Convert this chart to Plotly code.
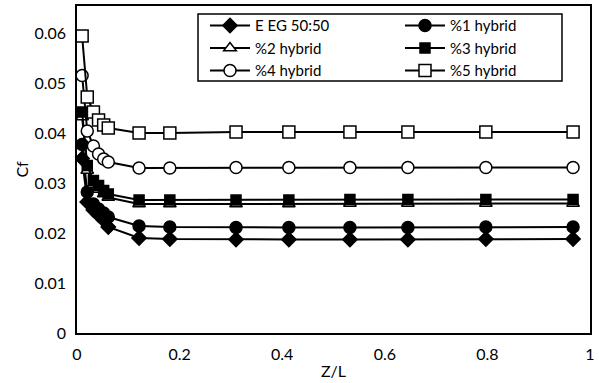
import plotly.graph_objects as go

x = [0.01, 0.02, 0.032, 0.042, 0.052, 0.061, 0.121, 0.181, 0.31, 0.413, 0.532, 0.645, 0.797, 0.967]

names = ["E EG 50:50", "%1 hybrid", "%2 hybrid", "%3 hybrid", "%4 hybrid", "%5 hybrid"]
eeg = [0.0349, 0.0262, 0.0246, 0.0236, 0.0226, 0.0212, 0.0190, 0.0188, 0.0187, 0.0187, 0.0187, 0.0187, 0.0188, 0.0188]
h1 = [0.0377, 0.0282, 0.0258, 0.0248, 0.0240, 0.0232, 0.0214, 0.0212, 0.0211, 0.0211, 0.0211, 0.0211, 0.0212, 0.0212]
h2 = [0.0432, 0.0325, 0.0297, 0.0287, 0.0278, 0.0271, 0.0258, 0.0258, 0.0258, 0.0258, 0.0259, 0.0259, 0.0259, 0.0259]
h3 = [0.0442, 0.0335, 0.0305, 0.0295, 0.0285, 0.0278, 0.0266, 0.0266, 0.0266, 0.0266, 0.0267, 0.0267, 0.0267, 0.0267]
h4 = [0.0515, 0.0404, 0.0374, 0.0358, 0.0348, 0.0342, 0.0330, 0.0330, 0.0331, 0.0331, 0.0331, 0.0331, 0.0331, 0.0331]
h5 = [0.0594, 0.0472, 0.0442, 0.0426, 0.0416, 0.0410, 0.0400, 0.0400, 0.0402, 0.0402, 0.0402, 0.0402, 0.0402, 0.0402]
series = [eeg, h1, h2, h3, h4, h5]

symbols = ["diamond", "circle", "triangle-up", "square", "circle", "square"]
fills = ["black", "black", "white", "black", "white", "white"]
sizes = [11, 12, 11, 10, 12, 12]

fig = go.Figure()
for n, s, sym, fc, sz in zip(names, series, symbols, fills, sizes):
    fig.add_trace(go.Scatter(
        x=x, y=s, name=n, mode="lines+markers",
        line=dict(color="black", width=2),
        marker=dict(symbol=sym, size=sz, color=fc, line=dict(color="black", width=1.5)),
    ))

# legend frame
fig.add_shape(type="rect", xref="paper", yref="paper",
              x0=(198 - 77) / 513, x1=(562 - 77) / 513,
              y0=(333 - 81) / 327, y1=(333 - 14) / 327,
              line=dict(color="black", width=1.5), fillcolor="white", layer="above")

font = "Lato, 'Open Sans', sans-serif"
fig.update_layout(
    width=599, height=383,
    margin=dict(l=77, r=9, t=6, b=50, autoexpand=False),
    plot_bgcolor="white", paper_bgcolor="white",
    font=dict(family=font, size=16, color="black"),
    legend=dict(
        orientation="h", x=(205 - 77) / 513, y=0.99, xanchor="left", yanchor="top",
        entrywidth=140, itemwidth=40,
        borderwidth=0, bgcolor="rgba(0,0,0,0)",
        font=dict(size=15), tracegroupgap=0,
    ),
    xaxis=dict(range=[0, 1], tickvals=[0, 0.2, 0.4, 0.6, 0.8, 1],
               ticktext=["0", "0.2", "0.4", "0.6", "0.8", "1"],
               showgrid=False, zeroline=False, showline=True, linecolor="black",
               linewidth=1.5, mirror=True, ticks="", ticklen=0,
               ticklabelstandoff=6, automargin=False,
               title=dict(text="Z/L", standoff=4, font=dict(size=16))),
    yaxis=dict(range=[0, 0.0654], tickvals=[0, 0.01, 0.02, 0.03, 0.04, 0.05, 0.06],
               ticktext=["0", "0.01", "0.02", "0.03", "0.04", "0.05", "0.06"],
               showgrid=False, zeroline=False, showline=True, linecolor="black",
               linewidth=1.5, mirror=True, ticks="", ticklen=0,
               ticklabelstandoff=6, automargin=False,
               title=dict(text="Cf", standoff=2, font=dict(size=16))),
)
fig.write_html("out.html")
